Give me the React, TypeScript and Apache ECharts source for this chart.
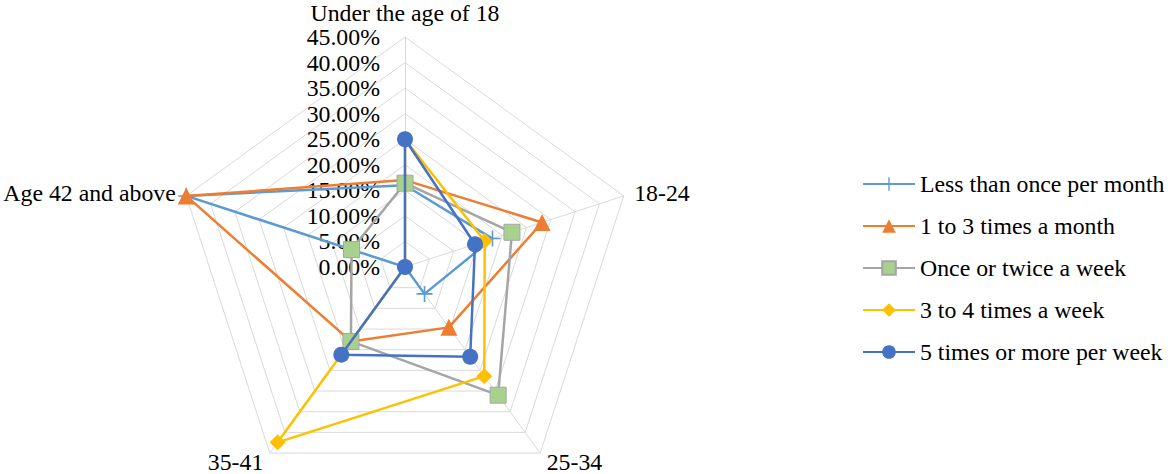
import React, { useEffect, useRef } from "react";
import * as echarts from "echarts";

const categories = ["Under the age of 18", "18-24", "25-34", "35-41", "Age 42 and above"];
const seriesNames = [
  "Less than once per month",
  "1 to 3 times a month",
  "Once or twice a week",
  "3 to 4 times a week",
  "5 times or more per week",
];
const lessThanOnceMonth = [16, 18, 6.5, 0, 45];
const oneToThreeMonth = [17, 28.2, 14.6, 18, 45];
const onceTwiceWeek = [16.4, 22, 31, 18, 11];
const threeFourWeek = [25, 16.4, 26.4, 42.4, 0];
const fivePlusWeek = [25, 14.4, 21.7, 21.2, 0];
const axisMax = 45;

const FONT = "'Liberation Serif', 'Times New Roman', serif";
const FS = 23.8;
const PLUS = "path://M9,0 L11,0 L11,20 L9,20 Z M0,9 L20,9 L20,11 L0,11 Z";

// ECharts lays indicators counter-clockwise; the reference runs clockwise.
const order = [0, 4, 3, 2, 1];

const styles = [
  { line: "#5B9BD5", fill: "#5B9BD5", border: "#5B9BD5", symbol: PLUS, size: 16, bw: 0 },
  { line: "#ED7D31", fill: "#ED7D31", border: "#ED7D31", symbol: "triangle", size: 17, bw: 0 },
  { line: "#A5A5A5", fill: "#A9D18E", border: "#A5A5A5", symbol: "rect", size: 16, bw: 1 },
  { line: "#FFC000", fill: "#FFC000", border: "#FFC000", symbol: "diamond", size: 16, bw: 0 },
  { line: "#4472C4", fill: "#4472C4", border: "#4472C4", symbol: "circle", size: 16, bw: 0 },
];
const allValues = [lessThanOnceMonth, oneToThreeMonth, onceTwiceWeek, threeFourWeek, fivePlusWeek];

export default function App() {
  const ref = useRef<HTMLDivElement>(null);
  useEffect(() => {
    document.body.style.margin = "0";
    if (!ref.current) return;
    const chart = echarts.init(ref.current, null, { renderer: "svg" });

    const indicator = order.map((i, k) => {
      const ind: any = { name: categories[i], max: axisMax, min: 0 };
      if (k === 0) {
        ind.axisLabel = {
          show: true,
          margin: 25,
          color: "#000",
          fontFamily: FONT,
          fontSize: FS,
          formatter: (v: number) => v.toFixed(2) + "%",
        };
      }
      return ind;
    });

    const legendSeries = seriesNames.map((name, s) => ({
      type: "line",
      name,
      xAxisIndex: 0,
      yAxisIndex: 0,
      data: [],
      symbol: styles[s].symbol,
      symbolSize: styles[s].size,
      lineStyle: { color: styles[s].line, width: 2.5 },
      itemStyle: { color: styles[s].fill, borderColor: styles[s].border, borderWidth: styles[s].bw },
    }));

    const radarSeries = seriesNames.map((name, s) => ({
      type: "radar",
      name,
      radarIndex: 0,
      symbol: styles[s].symbol,
      symbolSize: styles[s].size,
      lineStyle: { color: styles[s].line, width: 2.5 },
      itemStyle: { color: styles[s].fill, borderColor: styles[s].border, borderWidth: styles[s].bw },
      z: 2 + s,
      data: [{ name, value: order.map((i) => allValues[s][i]) }],
    }));

    chart.setOption({
      animation: false,
      backgroundColor: "#fff",
      textStyle: { fontFamily: FONT },
      grid: { left: 0, top: 0, width: 1, height: 1, show: false },
      xAxis: { type: "category", show: false, data: [] },
      yAxis: { type: "value", show: false },
      legend: {
        orient: "vertical",
        left: 857,
        top: 167,
        itemWidth: 52,
        itemHeight: 17,
        itemGap: 18,
        data: seriesNames,
        selectedMode: false,
        textStyle: { color: "#000", fontFamily: FONT, fontSize: FS },
      },
      radar: {
        center: [405, 267],
        radius: 230,
        startAngle: 90,
        shape: "polygon",
        splitNumber: 9,
        nameGap: 11,
        indicator,
        axisName: { color: "#000", fontFamily: FONT, fontSize: FS, lineHeight: 18 },
        axisLine: { lineStyle: { color: "#D9D9D9", width: 1 } },
        splitLine: { lineStyle: { color: "#D9D9D9", width: 1 } },
        splitArea: { show: false },
        axisTick: { show: false },
        axisLabel: { show: false },
      },
      series: [...legendSeries, ...radarSeries],
    });
    return () => chart.dispose();
  }, []);
  return <div ref={ref} style={{ width: 1170, height: 474 }} />;
}
